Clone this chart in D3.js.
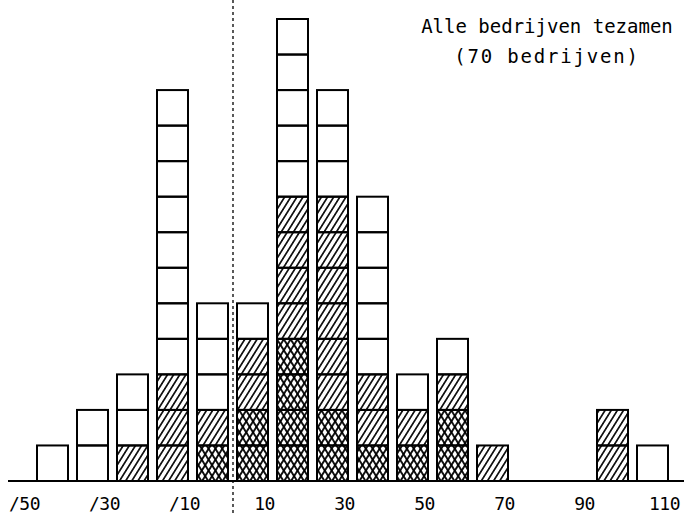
<!DOCTYPE html>
<html>
<head>
<meta charset="utf-8">
<script src="https://cdn.jsdelivr.net/npm/d3@7"></script>
<style>
  body { margin: 0; background: #fff; }
  text { font-family: 'DejaVu Sans Mono', monospace; fill: #000; }
</style>
</head>
<body>
<div class="display"></div>
<script>
const width = 684;
const height = 515;

// lower bound of each class (width 10)
const bins = [-50, -40, -30, -20, -10, 0, 10, 20, 30, 40, 50, 60, 70, 80, 90, 100];
// number of companies per class, stacked from the bottom: cross-hatched, hatched, open
const crossCounts = [0, 0, 0, 0, 1, 2, 4, 2, 1, 1, 2, 0, 0, 0, 0, 0];
const hatchCounts = [0, 0, 1, 3, 1, 2, 4, 6, 2, 1, 1, 1, 0, 0, 2, 0];
const openCounts  = [1, 2, 2, 8, 3, 1, 5, 3, 5, 1, 1, 0, 0, 0, 0, 1];
const tickValues = [-50, -30, -10, 10, 30, 50, 70, 90, 110];
const tickLabels = ['/50', '/30', '/10', '10', '30', '50', '70', '90', '110'];
const titleLines = ['Alle bedrijven tezamen', '(70 bedrijven)'];

const svg = d3.select('.display')
  .append('svg')
  .attr('width', width)
  .attr('height', height)
  .style('background-color', 'white');

const defs = svg.append('defs');
const hatch = (id, angle, gap, sw) => {
  defs.append('pattern')
    .attr('id', id)
    .attr('patternUnits', 'userSpaceOnUse')
    .attr('width', gap)
    .attr('height', 10)
    .attr('patternTransform', `rotate(${angle})`)
    .append('line')
    .attr('x1', gap / 2).attr('x2', gap / 2)
    .attr('y1', 0).attr('y2', 10)
    .attr('stroke', 'black')
    .attr('stroke-width', sw);
};
hatch('fwd', 32, 5.2, 1.6);
hatch('fwd2', 32, 5.8, 1.8);
hatch('bwd2', -32, 5.8, 1.8);

const xScale = d3.scaleLinear().domain([-50, 110]).range([33, 673]);
const yScale = d3.scaleLinear().domain([0, 13]).range([481, 19]);

// build one cell per company
const cells = [];
bins.forEach((b, i) => {
  let level = 0;
  [['cross', crossCounts[i]], ['hatch', hatchCounts[i]], ['open', openCounts[i]]].forEach(([type, n]) => {
    for (let k = 0; k < n; k++) {
      cells.push({ bin: b, level: level, type: type });
      level++;
    }
  });
});

const cellX = d => xScale(d.bin) + 4;
const cellW = d => xScale(d.bin + 10) - xScale(d.bin) - 9;
const cellY = d => yScale(d.level + 1);
const cellH = d => yScale(d.level) - yScale(d.level + 1);

const g = svg.append('g');
g.selectAll('rect.cell')
  .data(cells)
  .enter()
  .append('rect')
  .attr('class', 'cell')
  .attr('x', cellX)
  .attr('y', cellY)
  .attr('width', cellW)
  .attr('height', cellH)
  .attr('fill', d => d.type === 'open' ? 'white' : d.type === 'hatch' ? 'url(#fwd)' : 'url(#fwd2)');

g.selectAll('rect.cross')
  .data(cells.filter(d => d.type === 'cross'))
  .enter()
  .append('rect')
  .attr('class', 'cross')
  .attr('x', cellX)
  .attr('y', cellY)
  .attr('width', cellW)
  .attr('height', cellH)
  .attr('fill', 'url(#bwd2)');

g.selectAll('rect.frame')
  .data(cells)
  .enter()
  .append('rect')
  .attr('class', 'frame')
  .attr('x', cellX)
  .attr('y', cellY)
  .attr('width', cellW)
  .attr('height', cellH)
  .attr('fill', 'none')
  .attr('stroke', 'black')
  .attr('stroke-width', 2);

// baseline
svg.append('line')
  .attr('x1', 8).attr('x2', width)
  .attr('y1', yScale(0)).attr('y2', yScale(0))
  .attr('stroke', 'black')
  .attr('stroke-width', 2);

// zero line
svg.append('line')
  .attr('x1', xScale(0)).attr('x2', xScale(0))
  .attr('y1', 0).attr('y2', 513)
  .attr('stroke', 'black')
  .attr('stroke-width', 1.3)
  .attr('stroke-dasharray', '3,3');

// x axis labels
const xAxis = d3.axisBottom(xScale)
  .tickValues(tickValues)
  .tickSize(0)
  .tickFormat((d, i) => tickLabels[i]);

const axis = svg.append('g')
  .attr('transform', `translate(-9, ${yScale(0)})`)
  .call(xAxis);
axis.select('.domain').remove();
axis.selectAll('text')
  .attr('y', 29)
  .attr('dy', 0)
  .style('font-family', "'DejaVu Sans Mono', monospace")
  .style('font-size', '18px')
  .style('letter-spacing', '-0.5px');

// title
svg.append('text')
  .attr('x', 547).attr('y', 33)
  .attr('text-anchor', 'middle')
  .style('font-size', '19px')
  .text(titleLines[0]);
svg.append('text')
  .attr('x', 547).attr('y', 63)
  .attr('text-anchor', 'middle')
  .style('font-size', '19px')
  .style('letter-spacing', '1.8px')
  .text(titleLines[1]);
</script>
</body>
</html>
